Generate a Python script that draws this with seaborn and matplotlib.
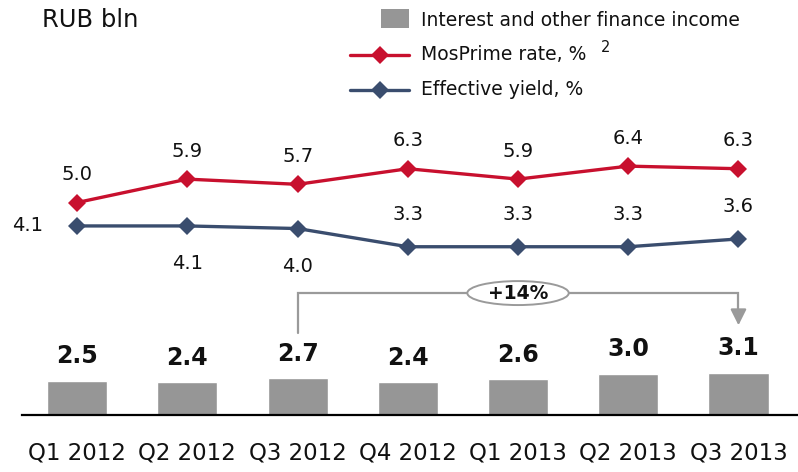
import matplotlib
matplotlib.use("Agg")
import matplotlib.pyplot as plt
from matplotlib.patches import Rectangle, Ellipse
from matplotlib.lines import Line2D
import seaborn as sns
import pandas as pd

# Quarterly data
quarters = ["Q1 2012", "Q2 2012", "Q3 2012", "Q4 2012", "Q1 2013", "Q2 2013", "Q3 2013"]
finance_income = [2.5, 2.4, 2.7, 2.4, 2.6, 3.0, 3.1]
mosprime_rate = [5.0, 5.9, 5.7, 6.3, 5.9, 6.4, 6.3]
effective_yield = [4.1, 4.1, 4.0, 3.3, 3.3, 3.3, 3.6]
growth_label = "+14%"

BAR_COLOR = "#969696"
RED = "#C8102E"
NAVY = "#3A4D6E"
GREY_ANN = "#9A9A9A"
TEXT = "#111111"

sns.set_theme(style="white")
plt.rcParams["font.family"] = ["DejaVu Sans"]

W, H = 798, 472
fig = plt.figure(figsize=(W / 100, H / 100), dpi=100)

base_y, top_y, left_x = 415, 40, 22
ax = fig.add_axes([left_x / W, 1 - base_y / H, 1 - left_x / W, (base_y - top_y) / H])

df = pd.DataFrame({"quarter": quarters, "income": finance_income,
                   "mosprime": mosprime_rate, "yield": effective_yield})
df["pos"] = range(len(df))

sns.barplot(data=df, x="quarter", y="income", color=BAR_COLOR, width=0.545,
            saturation=1, ax=ax)
ax.set_ylim(0, (base_y - top_y) / 13.7)
ax.set_xlim(-0.5, 6.54)
ax.set_xlabel("")
ax.set_ylabel("")
ax.set_yticks([])
for s in ["left", "right", "top"]:
    ax.spines[s].set_visible(False)
ax.spines["bottom"].set_color("black")
ax.spines["bottom"].set_linewidth(1.6)
ax.tick_params(axis="x", length=0, pad=19, labelsize=16.5, colors=TEXT)

for i, v in enumerate(finance_income):
    ax.annotate(f"{v:.1f}", (i, v), xytext=(0, 9), textcoords="offset points",
                ha="center", va="bottom", fontsize=17, fontweight="bold", color=TEXT)

# Rates on a secondary axis
ax2 = ax.twinx()
sns.lineplot(data=df, x="pos", y="mosprime", color=RED, lw=2.4, marker="D",
             markersize=9, markeredgewidth=0, ax=ax2)
sns.lineplot(data=df, x="pos", y="yield", color=NAVY, lw=2.4, marker="D",
             markersize=9, markeredgewidth=0, ax=ax2)
ax2.set_ylim(-3.17, 11.25)
ax2.set_yticks([])
ax2.set_xlabel("")
ax2.set_ylabel("")
for s in ax2.spines.values():
    s.set_visible(False)

for i, v in enumerate(mosprime_rate):
    ax2.annotate(f"{v:.1f}", (i, v), xytext=(0, 20), textcoords="offset points",
                 ha="center", va="center", fontsize=14, color=TEXT)

yield_offsets = [(-36, 0), (0, -27), (0, -27), (0, 23), (0, 23), (0, 23), (0, 23)]
for i, (v, off) in enumerate(zip(effective_yield, yield_offsets)):
    ax2.annotate(f"{v:.1f}", (i, v), xytext=off, textcoords="offset points",
                 ha="center", va="center", fontsize=14, color=TEXT)

# Growth bracket from Q3 2012 to Q3 2013
y_start, y_top, y_tip = 6.0, 8.9, 6.55
ax.plot([2, 2, 6, 6], [y_start, y_top, y_top, y_tip + 0.6], color=GREY_ANN, lw=1.6,
        solid_joinstyle="miter", clip_on=False)
ax.annotate("", xy=(6, y_tip), xytext=(6, y_tip + 0.7),
            arrowprops=dict(arrowstyle="-|>,head_width=0.4,head_length=0.8",
                            color=GREY_ANN, lw=1.6, shrinkA=0, shrinkB=0))
ax.add_patch(Ellipse((4.0, y_top), width=0.92, height=1.75, facecolor="white",
                     edgecolor=GREY_ANN, lw=1.4, zorder=5))
ax.text(4.0, y_top, growth_label, ha="center", va="center", fontsize=13.5,
        fontweight="bold", color=TEXT, zorder=6)

# Unit label and legend
fig.text(42 / W, 1 - 20 / H, "RUB bln", ha="left", va="center", fontsize=17.5, color=TEXT)

tx = 421 / W
fig.patches.append(Rectangle((381 / W, 1 - 28 / H), 28 / W, 19 / H,
                             transform=fig.transFigure, facecolor=BAR_COLOR, edgecolor="none"))
fig.text(tx, 1 - 20 / H, "Interest and other finance income", ha="left", va="center",
         fontsize=13.5, color=TEXT)
for yy, col, label in [(55, RED, "MosPrime rate, %"), (90, NAVY, "Effective yield, %")]:
    fig.lines.append(Line2D([350 / W, 409 / W], [1 - yy / H] * 2, transform=fig.transFigure,
                            color=col, lw=2.4))
    fig.lines.append(Line2D([380 / W], [1 - yy / H], transform=fig.transFigure, color=col,
                            marker="D", markersize=9, markeredgewidth=0))
    fig.text(tx, 1 - yy / H, label, ha="left", va="center", fontsize=13.5, color=TEXT)
fig.text(601 / W, 1 - 47 / H, "2", ha="left", va="center", fontsize=10.5, color=TEXT)

fig.savefig("out.png", dpi=100, facecolor="white")
